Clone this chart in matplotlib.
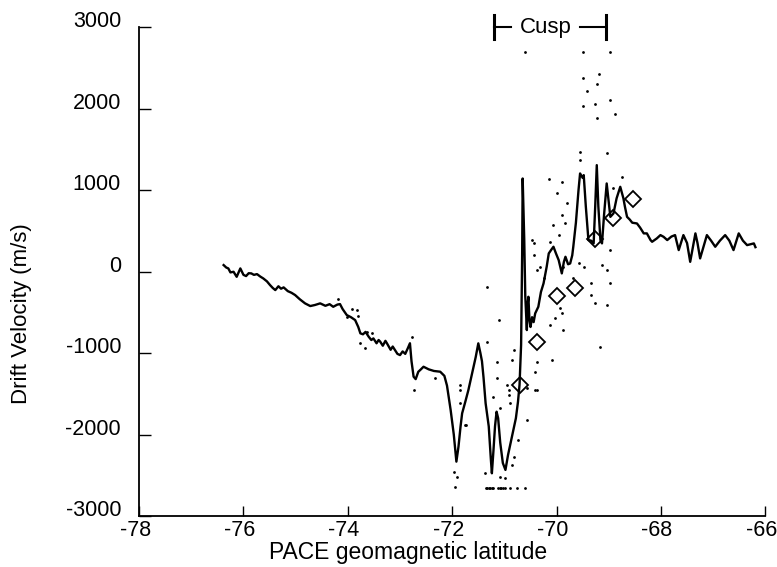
import numpy as np
import matplotlib
matplotlib.use("Agg")
import matplotlib.pyplot as plt
import matplotlib.transforms as mtransforms

plt.rcParams['font.family'] = ['Liberation Sans', 'DejaVu Sans']

# drift velocity trace (latitude, m/s)
lat = [-76.38, -76.33, -76.29, -76.25, -76.19, -76.13, -76.06, -76.00, -75.95, -75.90,
       -75.85, -75.80, -75.74, -75.68, -75.62, -75.55, -75.49, -75.44, -75.39, -75.33,
       -75.28, -75.23, -75.15, -75.08, -75.01, -74.92, -74.82, -74.72, -74.63, -74.53,
       -74.43, -74.35, -74.28, -74.20, -74.15, -74.10, -74.02, -73.94, -73.86, -73.80,
       -73.76, -73.71, -73.66, -73.60, -73.55, -73.51, -73.45, -73.41, -73.38, -73.33,
       -73.28, -73.25, -73.18, -73.14, -73.10, -73.05, -73.00, -72.95, -72.90, -72.85,
       -72.81, -72.78, -72.74, -72.70, -72.65, -72.60, -72.55, -72.45, -72.35, -72.23,
       -72.15, -72.10, -72.03, -71.97, -71.92, -71.88, -71.84, -71.81, -71.75, -71.69,
       -71.62, -71.55, -71.50, -71.46, -71.43, -71.40, -71.36, -71.30, -71.26, -71.24,
       -71.21, -71.18, -71.15, -71.12, -71.08, -71.03, -70.98, -70.93, -70.88, -70.83,
       -70.78, -70.74, -70.71, -70.68, -70.66, -70.65, -70.62, -70.60, -70.57, -70.555,
       -70.54, -70.52, -70.50, -70.47, -70.44, -70.41, -70.35, -70.30, -70.25, -70.19,
       -70.15, -70.10, -70.06, -70.01, -69.96, -69.90, -69.86, -69.83, -69.78, -69.74,
       -69.70, -69.68, -69.63, -69.58, -69.55, -69.50, -69.48, -69.44, -69.39, -69.34,
       -69.29, -69.26, -69.23, -69.20, -69.16, -69.13, -69.09, -69.04, -69.00, -68.97,
       -68.91, -68.85, -68.78, -68.72, -68.69, -68.65, -68.60, -68.55, -68.46, -68.40,
       -68.33, -68.27, -68.20, -68.17, -68.08, -68.01, -67.95, -67.88, -67.80, -67.73,
       -67.66, -67.57, -67.50, -67.44, -67.34, -67.30, -67.25, -67.12, -67.04, -66.96,
       -66.87, -66.77, -66.69, -66.61, -66.51, -66.43, -66.35, -66.22, -66.19]
vel = [80, 50, 39, -10, -2, -64, 39, -40, -55, -20,
       -22, -40, -31, -60, -84, -120, -166, -200, -227, -180,
       -210, -194, -240, -260, -288, -340, -390, -423, -410, -390,
       -420, -400, -432, -405, -399, -460, -534, -560, -595, -680,
       -758, -770, -740, -800, -840, -820, -880, -840, -860, -910,
       -850, -881, -960, -920, -960, -1010, -1025, -980, -1010, -940,
       -880, -1100, -1290, -1320, -1230, -1200, -1168, -1200, -1220, -1229,
       -1280, -1400, -1700, -2000, -2333, -2150, -1900, -1740, -1600, -1454,
       -1250, -1050, -881, -1000, -1100, -1300, -1617, -1900, -2300, -2476,
       -2200, -1900, -1720, -1800, -2100, -2350, -2435, -2250, -2100, -1945,
       -1800, -1600, -1390, -900, 200, 1143, 400, -300, -718, -400,
       -309, -600, -680, -560, -620, -513, -432, -250, -145, 59,
       223, 270, 305, 220, 141, -22, 120, 182, 90, 100,
       200, 305, 600, 1000, 1205, 1150, 1184, 800, 387, 380,
       346, 800, 1307, 800, 387, 346, 700, 1082, 850, 672,
       714, 900, 1041, 900, 795, 672, 640, 600, 591, 540,
       469, 469, 387, 366, 407, 448, 427, 387, 430, 448,
       264, 448, 350, 120, 469, 350, 162, 448, 380, 305,
       380, 448, 380, 264, 469, 380, 325, 346, 300]

# model values (diamonds)
diam_lat = [-70.70, -70.37, -69.99, -69.64, -69.26, -68.91, -68.53]
diam_vel = [-1393, -861, -297, -206, 400, 660, 886]

# scattered individual measurements
dot_lat = [-70.60, -69.50, -68.97, -69.19, -69.50, -69.22, -69.42, -68.97, -69.50, -69.27,
           -68.88, -69.22, -69.55, -69.55, -69.04, -70.15, -69.90, -70.00, -69.80, -69.90,
           -69.83, -70.06, -69.96, -70.12, -70.47, -70.44, -70.31, -70.25, -70.38, -69.87,
           -69.48, -69.58, -69.68, -69.35, -69.35, -69.26, -69.13, -68.97, -69.04, -69.04,
           -69.16, -68.97, -68.91, -68.75, -69.93, -69.90, -70.03, -70.12, -69.87, -70.09,
           -70.38, -70.41, -70.38, -70.57, -70.86, -70.82, -71.11, -71.34, -71.34, -71.14,
           -71.14, -70.92, -70.89, -71.08, -71.85, -71.85, -71.75, -70.44, -71.85, -71.97,
           -71.91, -71.94, -71.73, -71.37, -71.08, -70.98, -70.95, -70.92, -70.57, -70.73,
           -70.82, -70.86, -70.41, -71.21, -74.18, -74.02, -73.92, -73.83, -73.80, -73.64,
           -73.54, -73.76, -73.67, -72.74, -72.77, -72.33, -71.36, -71.33, -71.30, -71.27,
           -71.24, -71.21, -71.12, -71.09, -71.06, -71.03, -70.99, -70.89, -70.75, -70.60]
dot_vel = [2697, 2697, 2690, 2423, 2371, 2309, 2218, 2104, 2031, 2055,
           1933, 1880, 1470, 1368, 1450, 1131, 1102, 960, 837, 693,
           591, 570, 448, 366, 387, 202, 59, -83, 18, 59,
           59, 100, -83, -145, -288, -390, 80, -145, 18, -411,
           -923, 264, 1021, 1163, -452, -513, -574, -656, -718, -1086,
           -1107, -1229, -1454, -1433, -1086, -963, -595, -861, -186, -1107,
           -1310, -1454, -1617, -1679, -1454, -1617, -1883, 346, -1393, -2456,
           -2526, -2648, -1883, -2476, -2518, -2537, -1393, -1515, -1822, -2067,
           -2272, -2374, -1454, -1536, -341, -555, -464, -472, -546, -739,
           -751, -873, -943, -1454, -808, -1311, -2660, -2660, -2660, -2660,
           -2660, -2660, -2660, -2660, -2660, -2660, -2660, -2660, -2660, -2660]

xticks = [-78, -76, -74, -72, -70, -68, -66]
yticks = [-3000, -2000, -1000, 0, 1000, 2000, 3000]

fig = plt.figure(figsize=(7.77, 5.67), dpi=100)
ax = fig.add_axes([0.179, 0.090, 0.806, 0.862])

ax.plot(dot_lat, dot_vel, 'o', color='black', markersize=2.0, markeredgewidth=0)
ax.plot(lat, vel, color='black', lw=1.7)
ax.plot(diam_lat, diam_vel, 'D', markersize=8.5, markerfacecolor='none',
        markeredgecolor='black', markeredgewidth=1.3)

ax.set_xlim(-78, -66)
ax.set_ylim(-3000, 3000)
ax.set_xticks(xticks)
ax.set_yticks(yticks)
ax.set_xticklabels([str(t) for t in xticks])
ax.set_yticklabels([str(t) for t in yticks])

for s in ['top', 'right']:
    ax.spines[s].set_visible(False)
for s in ['left', 'bottom']:
    ax.spines[s].set_linewidth(1.3)

ax.tick_params(axis='x', direction='in', length=7, width=1, labelsize=15.5, pad=3)
ax.tick_params(axis='y', direction='in', length=8.5, width=1, labelsize=15.5, pad=13)

# y tick labels sit a little above their ticks, x labels a little left
off_y = mtransforms.ScaledTranslation(0, 8 / 100, fig.dpi_scale_trans)
for lab in ax.get_yticklabels():
    lab.set_transform(lab.get_transform() + off_y)
off_x = mtransforms.ScaledTranslation(-4 / 100, 0, fig.dpi_scale_trans)
for lab in ax.get_xticklabels():
    lab.set_transform(lab.get_transform() + off_x)

ax.set_xlabel('PACE geomagnetic latitude', fontsize=16.5)
ax.xaxis.set_label_coords(0.43, -0.075)
ax.xaxis.label.set_va('center')
ax.set_ylabel('Drift Velocity (m/s)', fontsize=16)
ax.yaxis.set_label_coords(-0.187, 0.415)
ax.yaxis.label.set_va('center')

# cusp bracket
cy = 3000
ax.plot([-71.20, -70.88], [cy, cy], color='black', lw=1.5, clip_on=False)
ax.plot([-69.55, -69.05], [cy, cy], color='black', lw=1.5, clip_on=False)
ax.plot([-71.20, -71.20], [cy - 150, cy + 150], color='black', lw=2.2, clip_on=False)
ax.plot([-69.05, -69.05], [cy - 150, cy + 150], color='black', lw=2.2, clip_on=False)
ax.text(-70.20, cy, 'Cusp', fontsize=16, ha='center', va='center')

fig.savefig('out.png', dpi=100)
